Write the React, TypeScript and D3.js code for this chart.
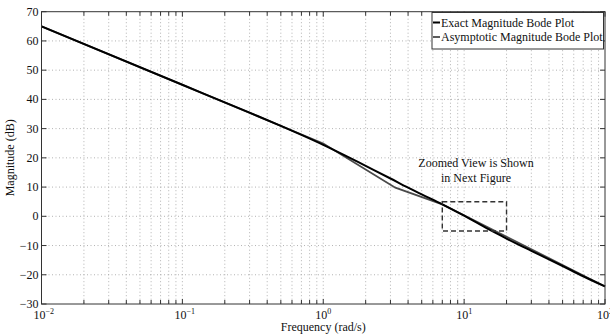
import React from "react";
import * as d3 from "d3";

const freqExact = [0.01, 0.1, 0.3, 0.5, 0.7, 1, 1.4, 2, 3, 4, 5, 7, 10, 15, 20, 30, 50, 70, 100];
const magExact = [65, 45, 35.45, 30.95, 27.88, 24.47, 21.04, 17.25, 12.94, 9.8, 7.5, 4.1, 0.2, -4.5, -7.6, -11.8, -17, -20.5, -24];
const freqAsym = [0.01, 1, 3.25, 7, 100];
const magAsym = [65, 24.9, 9.8, 4.1, -24];
const yTicks = [-30, -20, -10, 0, 10, 20, 30, 40, 50, 60, 70];
const xMajorExp = [-2, -1, 0, 1, 2];
const legendLabels = ["Exact Magnitude Bode Plot", "Asymptotic Magnitude Bode Plot"];
const zoomBoxFreq = [7, 20];
const zoomBoxMag = [-5, 5];
const annotation = ["Zoomed View is Shown", "in Next Figure"];

const W = 610, H = 335;
const L = 41.5, R = 605, T = 11.7, B = 304;
const FONT = "'Liberation Serif', 'Times New Roman', serif";

export default function App() {
  const x = d3.scaleLog().domain([0.01, 100]).range([L, R]);
  const y = d3.scaleLinear().domain([-30, 70]).range([B, T]);

  const minors: number[] = [];
  for (let e = -2; e < 2; e++) {
    for (let k = 2; k <= 9; k++) minors.push(k * Math.pow(10, e));
  }
  const majors = xMajorExp.map((e) => Math.pow(10, e));

  const line = d3
    .line<[number, number]>()
    .x((d) => x(d[0]))
    .y((d) => y(d[1]))
    .curve(d3.curveMonotoneX);
  const lineLin = d3
    .line<[number, number]>()
    .x((d) => x(d[0]))
    .y((d) => y(d[1]));

  const exactPts = freqExact.map((f, i) => [f, magExact[i]] as [number, number]);
  const asymPts = freqAsym.map((f, i) => [f, magAsym[i]] as [number, number]);

  const axisColor = "#333";
  const gridColor = "#a0a0a0";

  return (
    <svg
      width={W}
      height={H}
      style={{ position: "absolute", left: 0, top: 0, background: "#fff" }}
      fontFamily={FONT}
    >
      <rect x={0} y={0} width={W} height={H} fill="#fff" />
      {/* grid */}
      <g stroke={gridColor} strokeWidth={0.8} strokeDasharray="1,2.5">
        {[...minors, ...majors].filter((f) => f > 0.01 && f < 100).map((f, i) => (
          <line key={"gx" + i} x1={x(f)} x2={x(f)} y1={T} y2={B} />
        ))}
        {yTicks.filter((v) => v > -30 && v < 70).map((v, i) => (
          <line key={"gy" + i} x1={L} x2={R} y1={y(v)} y2={y(v)} />
        ))}
      </g>
      {/* ticks */}
      <g stroke={axisColor} strokeWidth={1}>
        {minors.map((f, i) => (
          <g key={"mt" + i}>
            <line x1={x(f)} x2={x(f)} y1={B} y2={B - 4} />
            <line x1={x(f)} x2={x(f)} y1={T} y2={T + 4} />
          </g>
        ))}
        {majors.map((f, i) => (
          <g key={"Mt" + i}>
            <line x1={x(f)} x2={x(f)} y1={B} y2={B - 5} />
            <line x1={x(f)} x2={x(f)} y1={T} y2={T + 5} />
          </g>
        ))}
        {yTicks.map((v, i) => (
          <g key={"yt" + i}>
            <line x1={L} x2={L + 5} y1={y(v)} y2={y(v)} />
            <line x1={R} x2={R - 5} y1={y(v)} y2={y(v)} />
          </g>
        ))}
      </g>
      {/* curves */}
      <path d={lineLin(asymPts) || ""} fill="none" stroke="#4a4a4a" strokeWidth={1.8} />
      <path d={line(exactPts) || ""} fill="none" stroke="#000" strokeWidth={2} />
      {/* zoom box */}
      <rect
        x={x(zoomBoxFreq[0])}
        y={y(zoomBoxMag[1])}
        width={x(zoomBoxFreq[1]) - x(zoomBoxFreq[0])}
        height={y(zoomBoxMag[0]) - y(zoomBoxMag[1])}
        fill="none"
        stroke="#333"
        strokeWidth={1.4}
        strokeDasharray="5,3"
      />
      <g fontSize={12} textAnchor="middle" fill="#111">
        <text x={476} y={167}>{annotation[0]}</text>
        <text x={476} y={182}>{annotation[1]}</text>
      </g>
      {/* axes box */}
      <rect x={L} y={T} width={R - L} height={B - T} fill="none" stroke={axisColor} strokeWidth={1} />
      {/* y tick labels */}
      <g fontSize={12} textAnchor="end" fill="#111">
        {yTicks.map((v, i) => (
          <text key={"yl" + i} x={38.5} y={y(v) + 4}>
            {v < 0 ? "\u2212" + Math.abs(v) : String(v)}
          </text>
        ))}
      </g>
      {/* x tick labels */}
      <g fontSize={12} fill="#111">
        {xMajorExp.map((e, i) => (
          <text key={"xl" + i} x={x(Math.pow(10, e)) - 8} y={318.5}>
            10
            <tspan fontSize={8} dy={-5}>{e < 0 ? "\u2212" + Math.abs(e) : String(e)}</tspan>
          </text>
        ))}
      </g>
      {/* axis labels */}
      <text x={(L + R) / 2} y={331} fontSize={12} textAnchor="middle" fill="#111">
        Frequency (rad/s)
      </text>
      <text
        transform={`translate(14, ${(T + B) / 2}) rotate(-90)`}
        fontSize={12}
        textAnchor="middle"
        fill="#111"
      >
        Magnitude (dB)
      </text>
      {/* legend */}
      <rect x={432} y={12.5} width={171.5} height={36.5} fill="#fff" stroke={axisColor} strokeWidth={1} />
      <line x1={433} x2={440} y1={22.5} y2={22.5} stroke="#000" strokeWidth={2} />
      <line x1={433} x2={440} y1={37} y2={37} stroke="#4a4a4a" strokeWidth={1.8} />
      <g fontSize={12} fill="#111">
        <text x={441} y={26.5}>{legendLabels[0]}</text>
        <text x={441} y={41}>{legendLabels[1]}</text>
      </g>
    </svg>
  );
}
